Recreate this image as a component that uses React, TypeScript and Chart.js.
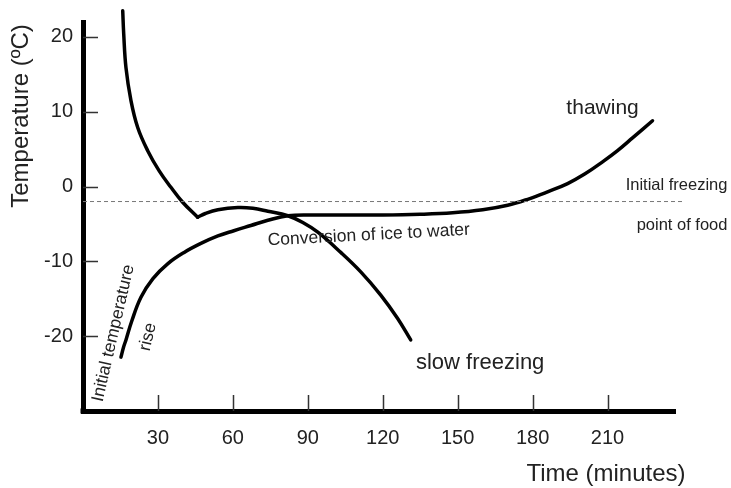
import React, { useEffect, useRef } from "react";
import { Chart, registerables } from "chart.js";

Chart.register(...registerables);

// ---- data ----
const freezeDropMinutes = [15.9, 16.3, 17.2, 19.2, 21.9, 25.9, 30.5, 35.2, 39.9, 45.9];
const freezeDropTemps = [23.5, 20.4, 15.9, 11.5, 7.9, 4.8, 2.1, -0.1, -2.1, -4.1];
const freezeTailMinutes = [45.9, 49, 54, 62, 68, 74, 82, 88, 94, 103.2, 111.2, 119.2, 125.9, 131.2];
const freezeTailTemps = [-4.1, -3.6, -3.1, -2.8, -2.9, -3.3, -3.9, -4.8, -6.1, -8.8, -11.4, -14.5, -17.6, -20.5];
const thawMinutes = [15.2, 16.2, 17.2, 19.5, 23.2, 28, 34, 40.5, 47.2, 54, 60.4, 67.2, 74, 82, 92, 105, 120, 135, 148, 160, 170, 178, 186, 194, 201, 208, 214, 220, 228];
const thawTemps = [-22.8, -21.5, -20.5, -18, -14.8, -12.3, -10.3, -8.8, -7.6, -6.6, -5.9, -5.2, -4.5, -3.9, -3.8, -3.8, -3.8, -3.7, -3.5, -3.1, -2.5, -1.7, -0.7, 0.4, 1.7, 3.3, 4.8, 6.5, 8.8];
const freezingPointMinutes = [0, 240];
const freezingPointTemp = -2;
const xTickValues = [30, 60, 90, 120, 150, 180, 210];
const yTickValues = [-20, -10, 0, 10, 20];
const xTitle = "Time (minutes)";
const yTitle = "Temperature (ºC)";

type Note = { text: string; x: number; y: number; size: number; align: CanvasTextAlign; rot: number };
const notes: Note[] = [
  { text: "thawing", x: 208, y: 10.5, size: 21, align: "center", rot: 0 },
  { text: "slow freezing", x: 159, y: -23.6, size: 22, align: "center", rot: 0 },
  { text: "Initial freezing", x: 258, y: 0.1, size: 16.5, align: "right", rot: 0 },
  { text: "point of food", x: 258, y: -5.2, size: 16.5, align: "right", rot: 0 },
  { text: "Conversion of ice to water", x: 114.4, y: -6.5, size: 17.5, align: "center", rot: -3 },
  { text: "Initial temperature", x: 12.2, y: -19.6, size: 17.5, align: "center", rot: -77 },
  { text: "rise", x: 26, y: -20.1, size: 17.5, align: "center", rot: -77 },
];

const FONT = "'Liberation Sans', Arial, Helvetica, sans-serif";
const toPts = (xs: number[], ys: number[]) => xs.map((x, i) => ({ x, y: ys[i] }));

const decor = {
  id: "decor",
  afterDraw(chart: any) {
    const { ctx, chartArea } = chart;
    const xs = chart.scales.x;
    const ys = chart.scales.y;
    ctx.save();
    // inward tick marks
    ctx.strokeStyle = "#333";
    ctx.lineWidth = 1.5;
    ctx.beginPath();
    xTickValues.forEach((v) => {
      const px = Math.round(xs.getPixelForValue(v)) + 0.5;
      ctx.moveTo(px, chartArea.bottom);
      ctx.lineTo(px, chartArea.bottom - 16);
    });
    yTickValues.forEach((v) => {
      const py = Math.round(ys.getPixelForValue(v)) + 0.5;
      ctx.moveTo(chartArea.left, py);
      ctx.lineTo(chartArea.left + 15, py);
    });
    ctx.stroke();
    // corner fill
    ctx.fillStyle = "#000";
    ctx.fillRect(chartArea.left - 2.5, chartArea.bottom - 2.5, 5, 5);

    ctx.fillStyle = "#222";
    ctx.textBaseline = "middle";
    // axis titles
    ctx.font = `24px ${FONT}`;
    ctx.textAlign = "center";
    ctx.fillText(xTitle, 606, 474);
    ctx.save();
    ctx.translate(21, 116);
    ctx.rotate(-Math.PI / 2);
    ctx.fillText(yTitle, 0, 0);
    ctx.restore();
    // annotations
    notes.forEach((n) => {
      ctx.save();
      ctx.font = `${n.size}px ${FONT}`;
      ctx.textAlign = n.align;
      ctx.translate(xs.getPixelForValue(n.x), ys.getPixelForValue(n.y));
      ctx.rotate((n.rot * Math.PI) / 180);
      ctx.fillText(n.text, 0, 0);
      ctx.restore();
    });
    ctx.restore();
  },
};

export default function App() {
  const ref = useRef<HTMLCanvasElement | null>(null);
  useEffect(() => {
    if (!ref.current) return;
    const lineStyle = {
      borderColor: "#000",
      borderWidth: 3.5,
      pointRadius: 0,
      fill: false,
      tension: 0.4,
      borderCapStyle: "round" as const,
      borderJoinStyle: "round" as const,
      clip: false as any,
    };
    const chart = new Chart(ref.current, {
      type: "line",
      data: {
        datasets: [
          { label: "freezing point", data: toPts(freezingPointMinutes, freezingPointMinutes.map(() => freezingPointTemp)), borderColor: "#777", borderWidth: 1, borderDash: [4, 3], pointRadius: 0, clip: false as any },
          { label: "slow freezing", data: toPts(freezeDropMinutes, freezeDropTemps), ...lineStyle },
          { label: "slow freezing (after)", data: toPts(freezeTailMinutes, freezeTailTemps), ...lineStyle },
          { label: "thawing", data: toPts(thawMinutes, thawTemps), ...lineStyle },
        ],
      },
      options: {
        animation: false,
        responsive: false,
        devicePixelRatio: 1,
        layout: { padding: { top: 22, right: 56, left: 0, bottom: 0 } },
        plugins: { legend: { display: false }, tooltip: { enabled: false } },
        scales: {
          x: {
            type: "linear",
            min: 0,
            max: 237,
            afterBuildTicks: (s: any) => { s.ticks = xTickValues.map((v) => ({ value: v })); },
            afterFit: (s: any) => { s.height = 77; },
            grid: { display: false, drawTicks: false },
            border: { display: true, color: "#000", width: 5 },
            ticks: { color: "#222", font: { family: FONT, size: 20 }, padding: 15, maxRotation: 0, autoSkip: false },
          },
          y: {
            type: "linear",
            min: -30,
            max: 22,
            afterBuildTicks: (s: any) => { s.ticks = yTickValues.map((v) => ({ value: v })); },
            afterFit: (s: any) => { s.width = 83; },
            grid: { display: false, drawTicks: false },
            border: { display: true, color: "#000", width: 5 },
            ticks: { color: "#222", font: { family: FONT, size: 20 }, padding: 10, autoSkip: false },
          },
        },
      },
      plugins: [decor],
    });
    return () => chart.destroy();
  }, []);
  return (
    <div style={{ position: "absolute", left: 0, top: 0, width: 731, height: 488, background: "#fff" }}>
      <canvas ref={ref} width={731} height={488} />
    </div>
  );
}
